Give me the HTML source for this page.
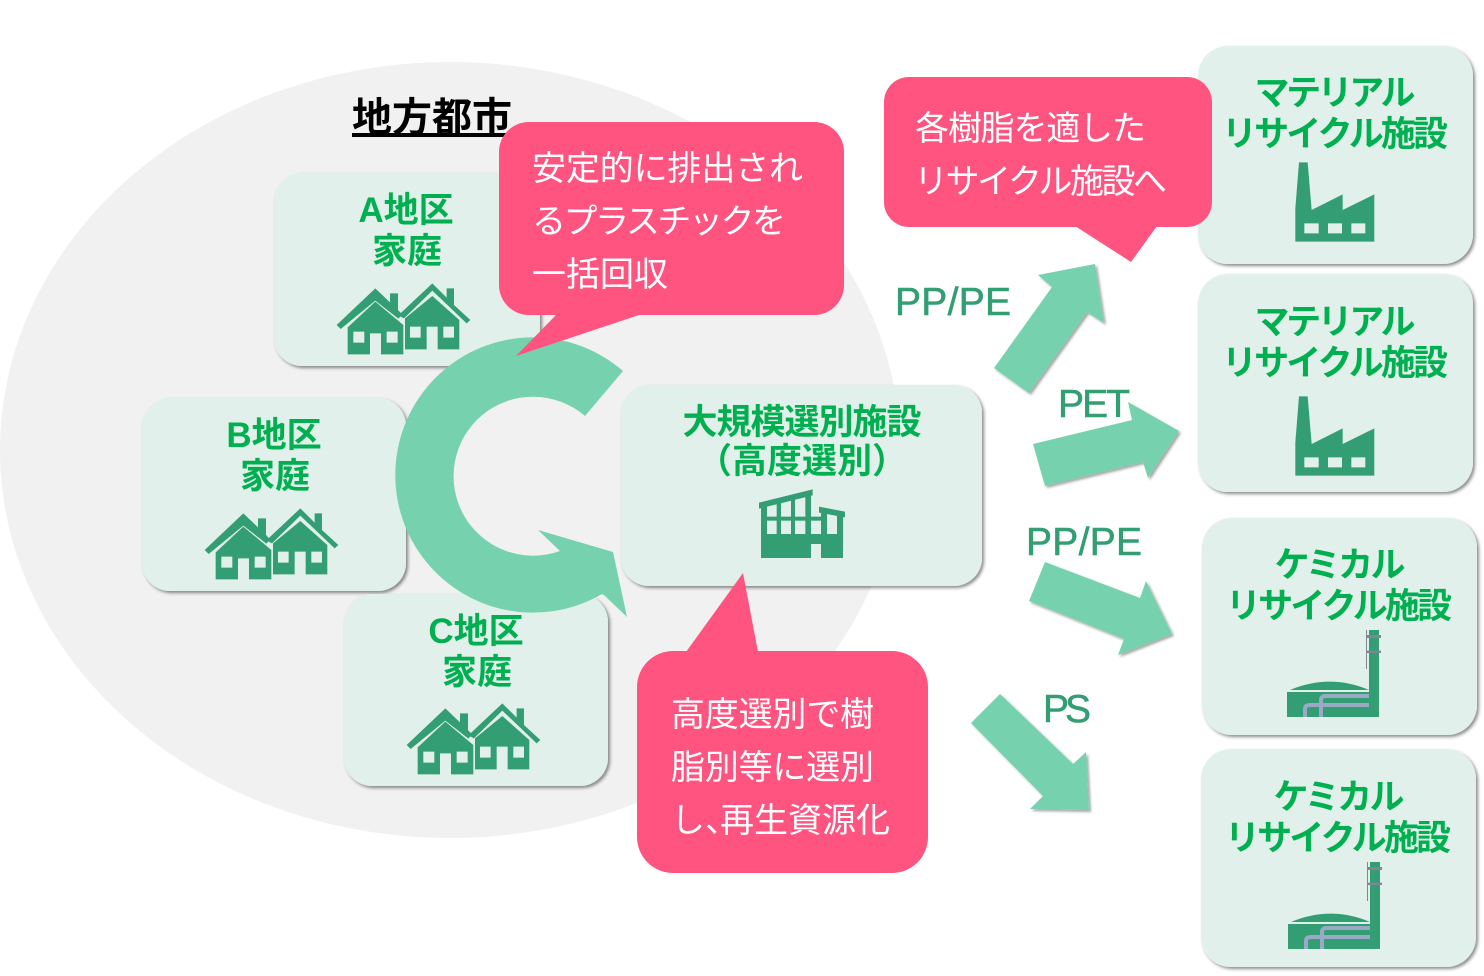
<!DOCTYPE html>
<html><head><meta charset="utf-8"><style>
html,body{margin:0;padding:0;background:#fff;width:1484px;height:976px;overflow:hidden}
svg{display:block}
text{font-family:"Liberation Sans","Noto Sans CJK JP",sans-serif}
.g{fill:#00b050;font-weight:700;font-size:35px;text-anchor:middle}
.w{fill:#fff;font-size:34px}
.l{fill:#339e73;font-size:39px;stroke:#339e73;stroke-width:.6px}
.ic{fill:#339e73}
</style></head><body>
<svg width="1484" height="976" viewBox="0 0 1484 976" xmlns="http://www.w3.org/2000/svg">
<defs>
<filter id="s" x="-5%" y="-5%" width="112%" height="112%"><feDropShadow dx="2" dy="2" stdDeviation="1.5" flood-color="#000" flood-opacity=".45"/></filter>
<filter id="a" x="-10%" y="-10%" width="125%" height="125%"><feDropShadow dx="2" dy="2" stdDeviation="1.2" flood-color="#000" flood-opacity=".35"/></filter>
<g id="houses" class="ic" transform="translate(270 170) scale(.3333)" fill-rule="evenodd">
<polygon points="200,465 316,355 360,397 360,370 384,370 384,420 397,434 385,446 316,392 212,477"/>
<path d="M233,472 L316,395 L400,465 L400,553 L333,553 L333,490 L300,490 L300,553 L233,553 Z M250,485 V518 H283 V485 Z M350,485 V518 H383 V485 Z"/>
<polygon points="385,436 487,340 530,383 530,355 552,355 552,405 601,450 590,460 487,362 402,445"/>
<path d="M405,445 L487,378 L568,450 L568,538 L503,538 L503,470 L470,470 L470,538 L405,538 Z M420,470 V503 H452 V470 Z M520,470 V503 H552 V470 Z"/>
</g>
<g id="factory" class="ic" transform="translate(1280 155) scale(.3333)">
<path fill-rule="evenodd" d="M57,22 H83 L95,165 L188,118 V165 L283,118 V260 H46 V160 Z M73,205 V235 H116 V205 Z M144,205 V235 H186 V205 Z M214,205 V235 H256 V205 Z"/>
</g>
<g id="chem" transform="translate(1270 625) scale(.3333)">
<rect class="ic" x="297" y="15" width="30" height="261"/>
<rect x="288" y="15" width="3" height="117" fill="#7f8794"/>
<rect x="288" y="30" width="45" height="9" fill="#7f8794"/>
<rect x="288" y="77" width="45" height="7" fill="#7f8794"/>
<path class="ic" d="M60,195 Q180,145 297,195 Z"/>
<rect class="ic" x="51" y="201" width="246" height="75"/>
<path d="M105,276 V252 Q105,240 120,240 H297 M153,276 V225 Q153,213 168,213 H297" fill="none" stroke="#9aa9c4" stroke-width="12"/>
</g>
</defs>

<ellipse cx="450" cy="450" rx="450" ry="388" fill="#f1f1f1"/>
<text x="352" y="131" font-size="40" font-weight="700" fill="#000" text-decoration="underline" textLength="160">地方都市</text>

<g fill="#e1f0ea" filter="url(#s)">
<rect x="274" y="173" width="266" height="193" rx="28"/>
<rect x="142" y="398" width="264" height="193" rx="28"/>
<rect x="344" y="594" width="264" height="192" rx="28"/>
<rect x="621" y="385" width="361" height="201" rx="28"/>
<rect x="1198" y="46" width="275" height="218" rx="30"/>
<rect x="1198" y="274" width="275" height="218" rx="30"/>
<rect x="1202" y="518" width="275" height="217" rx="30"/>
<rect x="1201" y="749" width="275" height="218" rx="30"/>
</g>

<text class="g" x="406" y="222">A地区</text><text class="g" x="407" y="263">家庭</text>
<text class="g" x="274" y="447">B地区</text><text class="g" x="275" y="488">家庭</text>
<text class="g" x="476" y="643">C地区</text><text class="g" x="477" y="684">家庭</text>
<text class="g" x="802" y="434" textLength="239">大規模選別施設</text>
<text class="g" x="802" y="473">（高度選別）</text>
<text class="g" x="1335" y="105" textLength="161">マテリアル</text>
<text class="g" x="1335" y="146" textLength="226">リサイクル施設</text>
<text class="g" x="1335" y="334" textLength="161">マテリアル</text>
<text class="g" x="1335" y="375" textLength="226">リサイクル施設</text>
<text class="g" x="1340" y="577" textLength="131">ケミカル</text>
<text class="g" x="1339" y="618" textLength="226">リサイクル施設</text>
<text class="g" x="1339" y="809" textLength="131">ケミカル</text>
<text class="g" x="1338" y="850" textLength="226">リサイクル施設</text>

<use href="#houses"/>
<use href="#houses" transform="translate(-132 225)"/>
<use href="#houses" transform="translate(70 420)"/>
<use href="#factory"/>
<use href="#factory" transform="translate(0 234)"/>
<use href="#chem"/>
<use href="#chem" transform="translate(1 232)"/>

<g class="ic" transform="translate(740 480) scale(.3333)">
<path fill-rule="evenodd" d="M63,162 H309 V234 H243 V192 H213 V234 H63 Z"/>
<polygon points="57,68 218,28 218,46 57,86"/>
<polygon points="237,80 315,95 315,112 237,98"/>
<rect x="63" y="75" width="18" height="90"/><rect x="110" y="65" width="13" height="100"/><rect x="153" y="55" width="12" height="110"/><rect x="196" y="45" width="17" height="120"/><rect x="243" y="90" width="18" height="75"/><rect x="291" y="105" width="18" height="60"/>
<rect x="63" y="110" width="198" height="12"/>
</g>

<path d="M623,371 A137.6,137.6 0 1 0 602,594 L605,596 L627,617 L613,552 L538,530 L560,551 A79.5,79.5 0 1 1 585,416 Z" fill="#76d2ae"/>

<g fill="#76d2ae" filter="url(#a)">
<polygon points="994,368 1029,393 1087,312 1104,323 1095,264 1038,275 1052,287"/>
<polygon points="1033,444 1045,486 1143,462 1148,478 1179,431 1128,402 1132,420"/>
<polygon points="1045,562 1029,601 1124,639 1118,655 1172,634 1146,581 1140,598"/>
<polygon points="1000,694 971,723 1043,796 1030,809 1089,810 1086,752 1073,764"/>
</g>

<text class="l" x="895" y="315" textLength="116">PP/PE</text>
<text class="l" x="1058" y="417" textLength="72">PET</text>
<text class="l" x="1026" y="555" textLength="116">PP/PE</text>
<text class="l" x="1043" y="722" textLength="48">PS</text>

<g fill="#ff5480">
<rect x="499" y="122" width="345" height="193" rx="30"/>
<polygon points="557,314 516,356 642,314"/>
<rect x="637" y="651" width="291" height="222" rx="36"/>
<polygon points="686,652 743,573 758,652"/>
<rect x="884" y="77" width="328" height="150" rx="25"/>
<polygon points="1075,226 1131,262 1157,226"/>
</g>

<text class="w" x="532" y="180" textLength="271">安定的に排出され</text>
<text class="w" x="532" y="233" textLength="254">るプラスチックを</text>
<text class="w" x="532" y="286" textLength="136">一括回収</text>
<text class="w" x="671" y="726" textLength="203">高度選別で樹</text>
<text class="w" x="671" y="779" textLength="203">脂別等に選別</text>
<text class="w" x="671" y="832">し、<tspan x="720" textLength="170">再生資源化</tspan></text>
<text class="w" x="915" y="140" textLength="231">各樹脂を適した</text>
<text class="w" x="914" y="193" textLength="253">リサイクル施設へ</text>
</svg>
</body></html>
